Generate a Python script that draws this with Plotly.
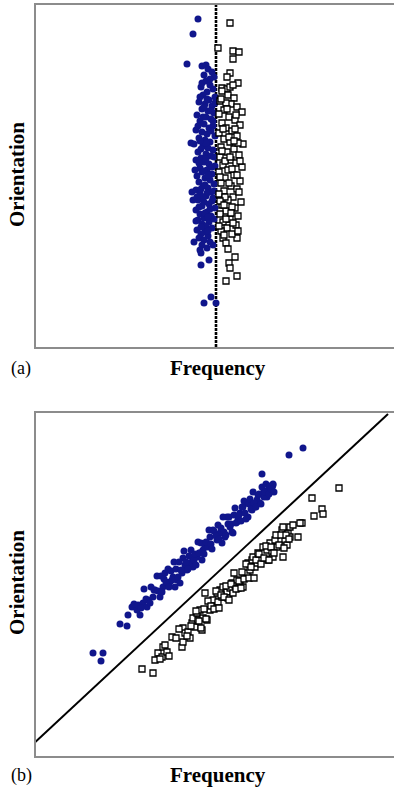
import plotly.graph_objects as go

# ---------------- Panel (a) data (arbitrary frequency / orientation units) ----------------
a_blue_x = [162, 157, 151, 166, 170, 155, 156, 157, 158, 165, 165, 173, 175, 168, 180,
            172, 176, 168, 178, 170, 174, 165, 177, 171, 167, 179, 173, 163, 169, 176, 166, 172, 178, 161, 170,
            175, 164, 168, 177, 173, 160, 166, 171, 179, 163, 169, 174, 158, 167, 172, 177, 162, 170, 175, 165,
            160, 168, 173, 179, 164, 171, 166, 176, 161, 169, 174, 163, 178, 167, 172, 160, 175, 164, 170, 177,
            162, 168, 173, 166, 179, 160, 171, 164, 175, 168, 162, 173, 166, 170, 176, 161, 169, 165, 172, 163,
            168, 174, 166, 171, 164,
            174, 166, 179, 168, 162, 175, 170, 165, 178, 163, 168, 173, 165, 171, 176, 163, 169, 178, 165, 172,
            160, 177, 159, 176, 167, 171, 164, 175, 170, 172, 167, 174, 169, 164, 177, 161, 178, 172]
a_blue_y = [328, 313, 283, 281, 282, 204, 155, 147, 105, 94, 82, 87, 50, 44, 44,
            278, 275, 272, 270, 266, 262, 260, 258, 255, 252, 250, 247, 245, 243, 241, 238, 236, 234, 232, 230,
            228, 226, 223, 221, 219, 217, 215, 213, 211, 209, 207, 205, 203, 201, 199, 197, 195, 193, 191, 189,
            187, 185, 183, 181, 179, 177, 175, 173, 171, 169, 167, 165, 163, 161, 159, 157, 155, 153, 151, 149,
            147, 145, 143, 141, 139, 137, 135, 133, 131, 129, 127, 125, 123, 121, 119, 117, 115, 113, 111, 109,
            107, 105, 102, 99, 97,
            268, 264, 244, 240, 221, 216, 204, 198, 190, 184, 176, 170, 158, 154, 146, 140, 134, 128, 120, 116,
            126, 102, 177, 180, 230, 248, 250, 236, 188, 172, 150, 138, 162, 206, 226, 150, 156, 130]

a_sq_x = [194, 182, 197, 203, 197, 194, 191, 202, 186, 191, 194, 201, 187, 190, 192, 199, 193, 194, 201, 190,
          186, 192, 198, 184, 195, 201, 188, 206, 183, 193, 199, 186, 204, 190, 196, 183, 201, 188, 194, 207,
          185, 198, 191, 203, 184, 195, 200, 187, 206, 192, 183, 198, 189, 204, 185, 195, 201, 188, 183, 197,
          192, 205, 186, 199, 190, 184, 202, 194, 187, 200, 191, 185, 196,
          190, 200, 187, 193, 186, 202, 189, 196, 184, 201, 193, 189, 196, 184, 203, 190, 197, 188, 202, 194,
          199, 185, 197, 191, 204, 188, 195, 183, 198]
a_sq_y = [324, 299, 296, 295, 288, 274, 270, 264, 259, 258, 260, 109, 109, 104, 98, 90, 84, 79, 71, 66,
          256, 252, 249, 246, 243, 240, 237, 235, 233, 230, 227, 224, 222, 219, 216, 214, 211, 208, 205, 203,
          200, 198, 195, 192, 190, 187, 184, 182, 180, 177, 175, 172, 169, 166, 164, 161, 158, 156, 153, 150,
          147, 145, 142, 139, 136, 133, 131, 128, 125, 122, 119, 116, 113,
          244, 232, 218, 210, 196, 204, 186, 178, 170, 172, 164, 150, 140, 146, 155, 128, 124, 112, 116, 190,
          218, 248, 262, 238, 186, 142, 134, 121, 206]

a_ref_x = [180, 180]
a_ref_y = [0, 346]

# ---------------- Panel (b) data ----------------
b_blue_x = [267, 253, 226, 237, 236, 57, 67, 65, 84, 91, 92,
            96, 101, 104, 102, 107, 111, 112, 117, 119, 124, 127, 129, 131, 134, 137, 139, 141, 144, 146, 147,
            149, 151, 154, 156, 157, 161, 164, 166, 167, 169, 171, 172, 174, 177, 181, 184, 186, 189, 191, 194,
            197, 201, 202, 204, 207, 211, 212, 216, 219, 221, 222, 224, 227, 231, 232, 236, 237,
            98, 105, 108, 110, 114, 115, 118, 121, 122, 125, 126, 128, 130, 132, 133, 135, 136, 138, 140, 142,
            143, 145, 148, 150, 152, 153, 155, 158, 159, 160, 162, 163, 165, 168, 170, 173, 175, 176, 178, 180,
            182, 183, 185, 187, 188, 190, 192, 193, 195, 196, 198, 199, 200, 203, 205, 206, 208, 209, 210, 213,
            214, 215, 217, 218, 220, 223, 225, 226, 228, 229, 230, 233, 234, 235, 238]
b_blue_y = [308, 301, 282, 272, 269, 103, 103, 95, 132, 130, 141,
            149, 146, 141, 151, 153, 149, 156, 159, 166, 159, 169, 183, 173, 174, 179, 169, 176, 173, 183, 198,
            191, 186, 193, 199, 189, 199, 203, 196, 206, 209, 213, 209, 219, 226, 216, 223, 213, 219, 239, 229,
            223, 234, 239, 243, 249, 253, 239, 246, 249, 256, 261, 253, 263, 259, 266, 269, 271,
            152, 148, 167, 157, 153, 169, 166, 180, 165, 180, 164, 177, 174, 187, 169, 185, 176, 194, 187, 179,
            194, 186, 205, 194, 187, 200, 206, 196, 202, 191, 214, 203, 213, 202, 214, 226, 212, 207, 225, 220,
            231, 217, 228, 239, 224, 221, 232, 239, 232, 224, 241, 248, 233, 241, 235, 249, 255, 243, 237, 252,
            257, 247, 264, 253, 249, 262, 252, 269, 259, 264, 272, 262, 270, 267, 264]

b_sq_x = [303, 276, 286, 287, 278, 266, 106, 117, 146,
          119, 122, 127, 126, 131, 136, 147, 147, 149, 152, 154, 156, 157, 159, 161, 162, 164, 166, 167, 169,
          171, 174, 176, 177, 179, 181, 182, 184, 186, 187, 191, 192, 194, 196, 197, 199, 201, 202, 204, 207,
          211, 212, 214, 216, 217, 219, 221, 222, 224, 227, 231, 232, 234, 236, 237, 239, 241, 247, 246, 249,
          251, 252, 254, 257, 262, 264, 247, 254,
          124, 129, 133, 140, 143, 151, 155, 160, 163, 165, 168, 170, 172, 175, 178, 180, 183, 185, 188, 190,
          193, 195, 198, 200, 203, 205, 206, 208, 210, 213, 215, 218, 220, 223, 225, 228, 230, 233, 235, 238,
          240, 243, 245, 248, 250, 253]
b_sq_y = [268, 258, 247, 242, 240, 233, 87, 83, 109,
          96, 103, 109, 99, 104, 119, 114, 128, 123, 124, 118, 133, 138, 129, 143, 136, 146, 126, 138, 163,
          136, 146, 153, 156, 149, 163, 154, 166, 159, 169, 164, 158, 168, 173, 163, 171, 176, 168, 173, 169,
          183, 193, 186, 196, 199, 189, 193, 203, 196, 209, 206, 196, 213, 203, 199, 216, 209, 199, 226, 216,
          211, 223, 229, 231, 219, 233, 229, 219,
          97, 111, 100, 118, 127, 120, 130, 145, 135, 128, 147, 137, 155, 150, 147, 165, 148, 161, 159, 170,
          156, 172, 183, 167, 175, 168, 184, 177, 192, 178, 189, 178, 196, 202, 192, 198, 210, 196, 209, 203,
          221, 211, 221, 208, 221, 217]

b_ref_x = [-5, 352]
b_ref_y = [10, 342]

BLUE = "#10168c"
FONT = "Liberation Serif"

fig = go.Figure()

# Panel (a)
fig.add_trace(go.Scatter(x=a_ref_x, y=a_ref_y, mode="lines", xaxis="x", yaxis="y",
                         line=dict(color="black", width=2.6, dash="3px,1px"), hoverinfo="skip"))
fig.add_trace(go.Scatter(x=a_blue_x, y=a_blue_y, mode="markers", xaxis="x", yaxis="y",
                         marker=dict(color=BLUE, size=7, line=dict(width=0)), cliponaxis=False))
fig.add_trace(go.Scatter(x=a_sq_x, y=a_sq_y, mode="markers", xaxis="x", yaxis="y",
                         marker=dict(symbol="square", color="white", size=6,
                                     line=dict(color="black", width=1.3)), cliponaxis=False))

# Panel (b)
fig.add_trace(go.Scatter(x=b_ref_x, y=b_ref_y, mode="lines", xaxis="x2", yaxis="y2",
                         line=dict(color="black", width=2), hoverinfo="skip"))
fig.add_trace(go.Scatter(x=b_blue_x, y=b_blue_y, mode="markers", xaxis="x2", yaxis="y2",
                         marker=dict(color=BLUE, size=7, line=dict(width=0)), cliponaxis=False))
fig.add_trace(go.Scatter(x=b_sq_x, y=b_sq_y, mode="markers", xaxis="x2", yaxis="y2",
                         marker=dict(symbol="square", color="white", size=6,
                                     line=dict(color="black", width=1.3)), cliponaxis=False))

frame = dict(showline=True, linecolor="#8c8c8c", linewidth=1.5, showgrid=False,
             zeroline=False, showticklabels=False, ticks="", fixedrange=True)

fig.update_layout(
    width=394, height=787,
    margin=dict(l=0, r=0, t=0, b=0),
    paper_bgcolor="white", plot_bgcolor="white",
    showlegend=False,
    xaxis=dict(domain=[36/394, 1.0], range=[0, 358], anchor="y", mirror=True, **frame),
    yaxis=dict(domain=[1 - 347/787, 1 - 5/787], range=[0, 342], anchor="x", mirror=False, **frame),
    xaxis2=dict(domain=[36/394, 1.0], range=[0, 358], anchor="y2", mirror=True, **frame),
    yaxis2=dict(domain=[1 - 756/787, 1 - 413/787], range=[0, 343], anchor="x2", mirror=False, **frame),
)

def ann(text, x, y, size, bold=True, angle=0):
    fig.add_annotation(text=f"<b>{text}</b>" if bold else text, x=x, y=y,
                       xref="paper", yref="paper", xanchor="center", yanchor="middle",
                       showarrow=False, textangle=angle,
                       font=dict(family=FONT, size=size, color="black"))

ann("Orientation", 17/394, 1 - 175/787, 21, angle=-90)
ann("Frequency", 218/394, 1 - 368/787, 21)
ann("(a)", 21/394, 1 - 368/787, 18, bold=False)
ann("Orientation", 17/394, 1 - 583/787, 21, angle=-90)
ann("Frequency", 218/394, 1 - 775/787, 21)
ann("(b)", 21/394, 1 - 775/787, 18, bold=False)

fig.write_html("out.html", config={"displayModeBar": False},
               post_script="document.body.style.margin='0';document.body.style.overflow='hidden';")
